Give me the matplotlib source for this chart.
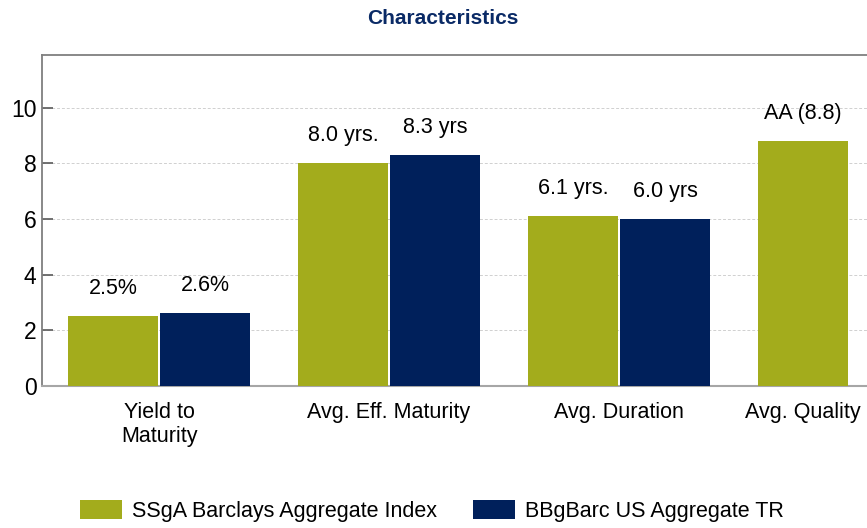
import matplotlib
matplotlib.use('Agg')
import matplotlib.pyplot as plt
import numpy as np

plt.rcParams['font.family'] = ['Liberation Sans Narrow', 'Liberation Sans', 'DejaVu Sans']

categories = ['Yield to\nMaturity', 'Avg. Eff. Maturity', 'Avg. Duration', 'Avg. Quality']
series_names = ['SSgA Barclays Aggregate Index', 'BBgBarc US Aggregate TR']
fund_values = [2.5, 8.0, 6.1, 8.8]
index_values = [2.6, 8.3, 6.0]
fund_labels = ['2.5%', '8.0 yrs.', '6.1 yrs.', 'AA (8.8)']
index_labels = ['2.6%', '8.3 yrs', '6.0 yrs']

GREEN = '#A3AC1C'
NAVY = '#00205B'
FS = 15.5

fig = plt.figure(figsize=(8.67, 5.28), dpi=100)
ax = fig.add_axes([0.0484, 0.2695, 0.9516, 0.6263])

x = np.arange(len(categories))
w = 0.39
off = 0.2

b1 = ax.bar(x - off, fund_values, w, color=GREEN, linewidth=0, zorder=3,
            label=series_names[0])
b2 = ax.bar(x[:len(index_values)] + off, index_values, w, color=NAVY,
            linewidth=0, zorder=3, label=series_names[1])

# value labels sit above each bar
for bar, txt in zip(list(b1) + list(b2), fund_labels + index_labels):
    ax.annotate(txt, (bar.get_x() + bar.get_width() / 2, bar.get_height()),
                xytext=(0, 16), textcoords='offset points',
                ha='center', va='baseline', fontsize=FS, color='black')

# last category has only one bar, so its label follows that bar
tick_pos = list(x[:3]) + [x[3] - off]
ax.set_xticks(tick_pos)
ax.set_xticklabels(categories, fontsize=FS, linespacing=1.15)
ax.tick_params(axis='x', length=0, pad=12)

ax.set_ylim(0, 11.9)
ax.set_xlim(-0.509, 3.078)
ax.set_yticks(range(0, 11, 2))
ax.tick_params(axis='y', direction='in', length=8, width=1.2, color='#595959',
               labelsize=FS + 1, pad=4)

ax.grid(axis='y', color='#d0d0d0', linestyle=(0, (3, 2)), linewidth=0.7, zorder=0)
ax.set_axisbelow(True)

for side in ['left', 'top']:
    ax.spines[side].set_color('#7f7f7f')
    ax.spines[side].set_linewidth(1.3)
ax.spines['bottom'].set_color('#a6a6a6')
ax.spines['bottom'].set_linewidth(1.5)
ax.spines['right'].set_visible(False)

fig.text(0.511, 0.965, 'Characteristics', ha='center', va='center',
         fontsize=15, fontweight='bold', color='#0A2A66')

fig.legend(handles=[b1, b2], loc='center', bbox_to_anchor=(0.498, 0.032),
           ncol=2, frameon=False, fontsize=FS, handlelength=1.95,
           handleheight=1.0, handletextpad=0.45, columnspacing=1.7)

fig.savefig('out.png', dpi=100)
